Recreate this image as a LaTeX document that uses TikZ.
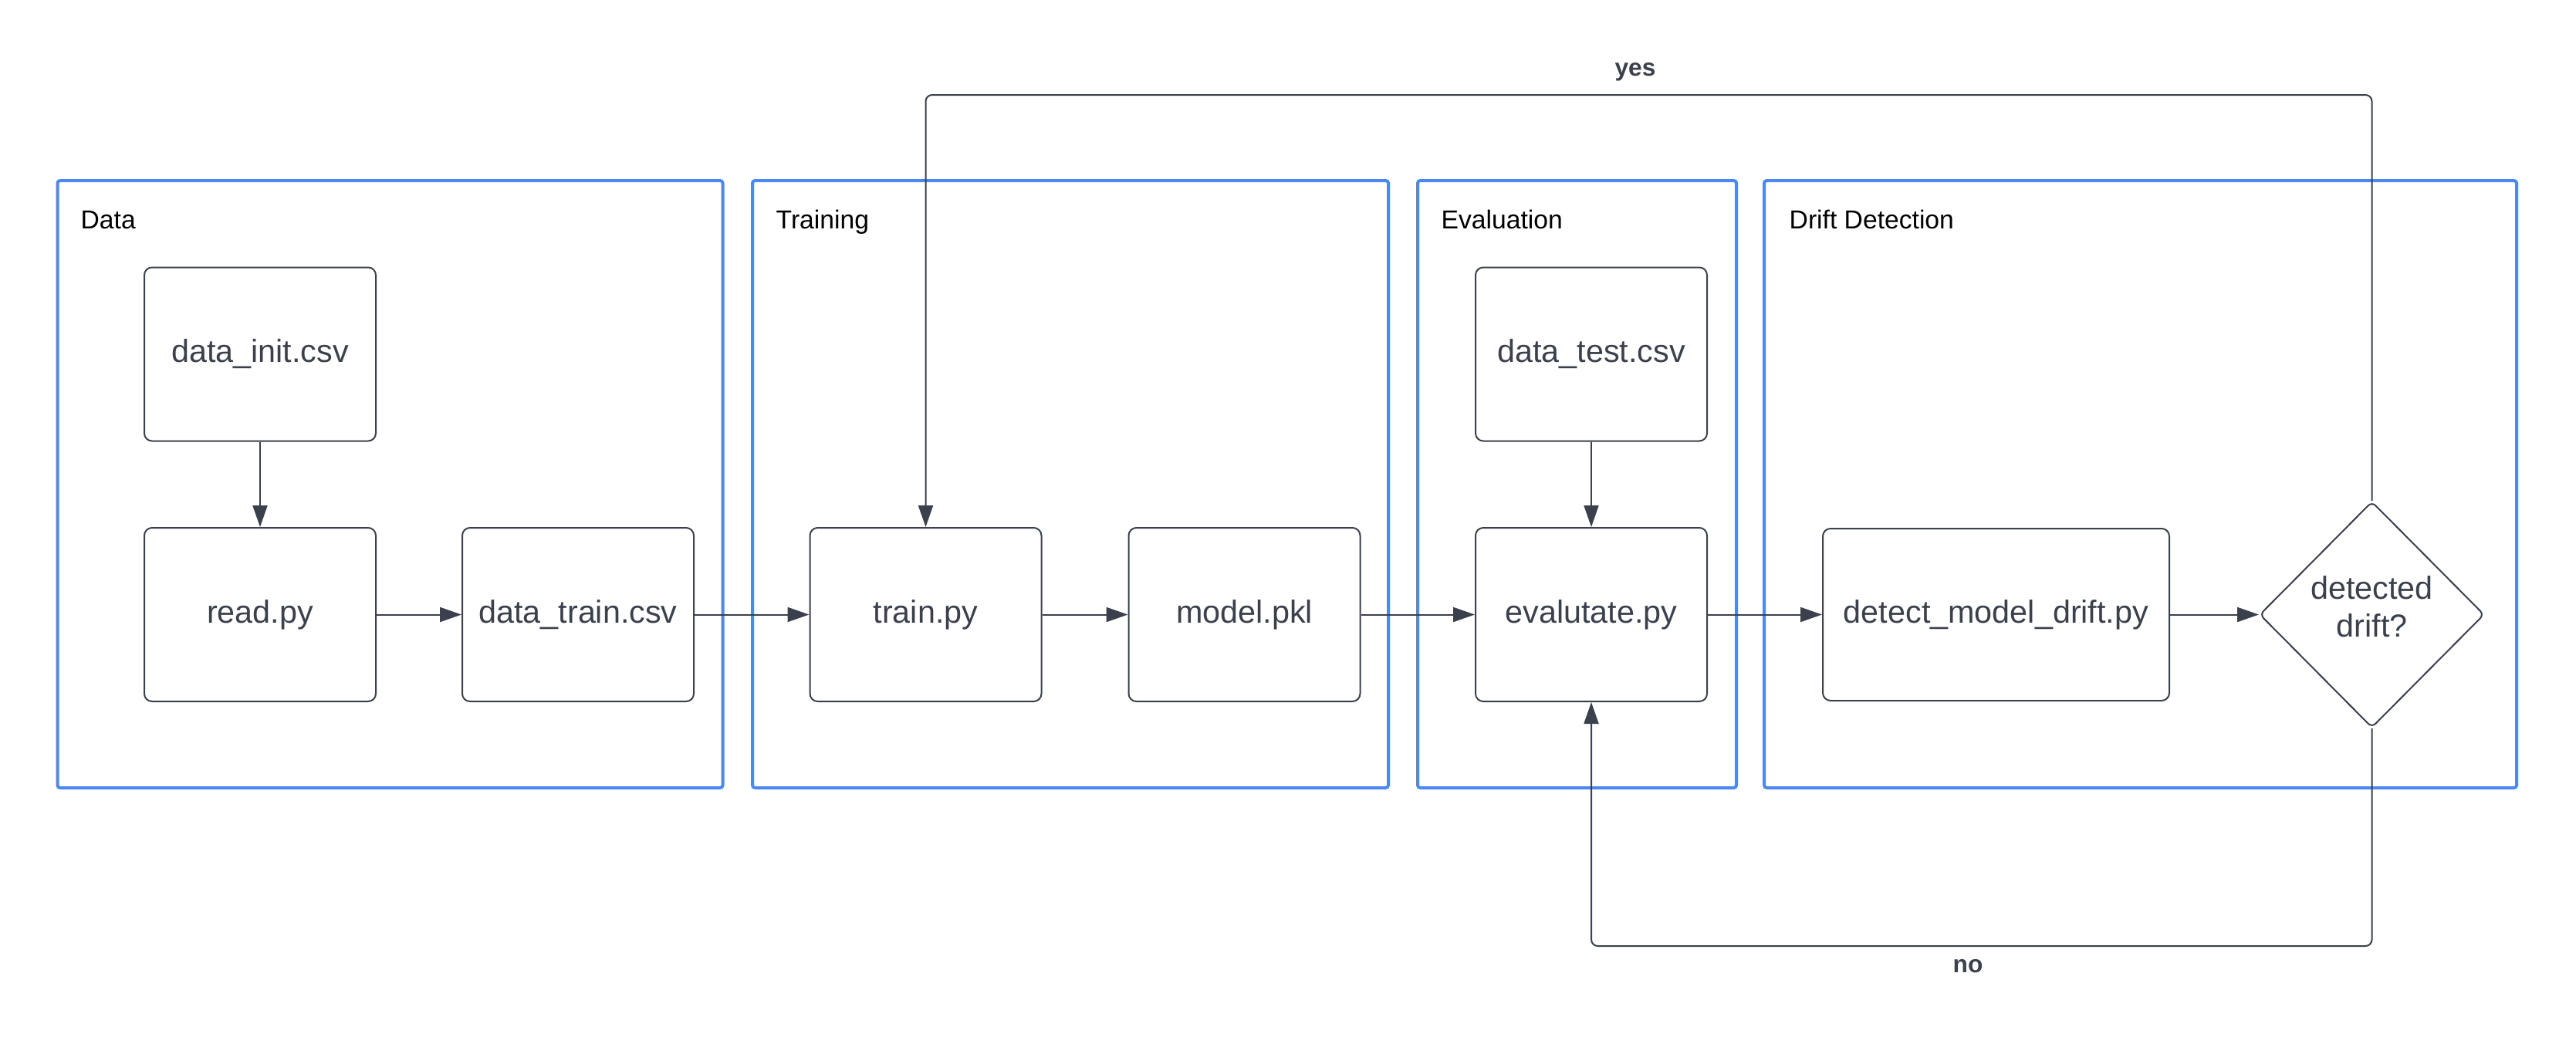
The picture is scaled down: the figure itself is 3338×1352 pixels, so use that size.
\documentclass[tikz,border=0pt]{standalone}
\usepackage{fontspec}
\setmainfont{Liberation Sans}
\usetikzlibrary{shapes.geometric,arrows.meta}
\definecolor{ink}{HTML}{3A414C}
\definecolor{grpblue}{HTML}{4A89F3}
\tikzset{
  box/.style={draw=ink, line width=0.6pt, rounded corners=3pt, minimum width=90pt, minimum height=67.5pt, inner sep=0pt, text=ink, font=\fontsize{12.4}{14.7}\selectfont},
  group/.style={draw=grpblue, line width=1.2pt, rounded corners=1pt, minimum height=236.1pt, inner sep=0pt},
  grplabel/.style={anchor=base west, inner sep=0pt, text=black, font=\fontsize{10.1}{12}\selectfont},
  edgelabel/.style={inner sep=0pt, text=ink, font=\bfseries\fontsize{9.5}{11}\selectfont},
  conn/.style={draw=ink, line width=0.6pt, -{Triangle[length=8.4pt,width=5.7pt]}},
}
\begin{document}
\begin{tikzpicture}[x=0.3pt,y=-0.3pt]
\useasboundingbox[fill=white] (0,0) rectangle (3338,1352);
% groups
\node[group, minimum width=258.6pt] (gdata) at (505.5,627.5) {};
\node[group, minimum width=247.2pt] (gtrain) at (1387,627.5) {};
\node[group, minimum width=123.9pt] (geval) at (2043.5,627.5) {};
\node[group, minimum width=292.5pt] (gdrift) at (2773.5,627.5) {};
\node[grplabel] (ldata) at (104,296) {Data};
\node[grplabel] (ltrain) at (1005,296) {Training};
\node[grplabel] (leval) at (1867,296) {Evaluation};
\node[grplabel] (ldrift) at (2318,296) {Drift Detection};
% nodes
\node[box] (init) at (337,459) {data\_init.csv};
\node[box] (read) at (337,796.5) {read.py};
\node[box] (dtrain) at (749,796.5) {data\_train.csv};
\node[box] (train) at (1199.5,796.5) {train.py};
\node[box] (model) at (1612.5,796.5) {model.pkl};
\node[box] (test) at (2062,459) {data\_test.csv};
\node[box] (eval) at (2062,796.5) {evalutate.py};
\node[box, minimum width=134.7pt, minimum height=66.9pt] (detect) at (2586.5,796.5) {detect\_model\_drift.py};
\node[draw=ink, line width=0.6pt, diamond, rounded corners=2pt, minimum width=87.3pt, minimum height=87.9pt, inner sep=0pt] (dd) at (3073.5,796.5) {};
\node[text=ink, align=center, inner sep=0pt, font=\fontsize{12.4}{14.7}\selectfont] (ddt) at (3073.5,786) {detected\\drift?};
% connectors
\draw[conn] (init) -- (read);
\draw[conn] (read) -- (dtrain);
\draw[conn] (dtrain) -- (train);
\draw[conn] (train) -- (model);
\draw[conn] (model) -- (eval);
\draw[conn] (test) -- (eval);
\draw[conn] (eval) -- (detect);
\draw[conn] (detect) -- (dd);
\coordinate (yr) at (3073.5,123);
\coordinate (yl) at (1199.5,123);
\coordinate (nr) at (3073.5,1226);
\coordinate (nl) at (2062,1226);
\draw[conn, rounded corners=2.5pt] (dd.north) -- (yr) -- (yl) -- (train.north);
\draw[conn, rounded corners=2.5pt] (dd.south) -- (nr) -- (nl) -- (eval.south);
\node[edgelabel] (yes) at (2119,93) {yes};
\node[edgelabel] (no) at (2550,1252) {no};
\end{tikzpicture}
\end{document}
